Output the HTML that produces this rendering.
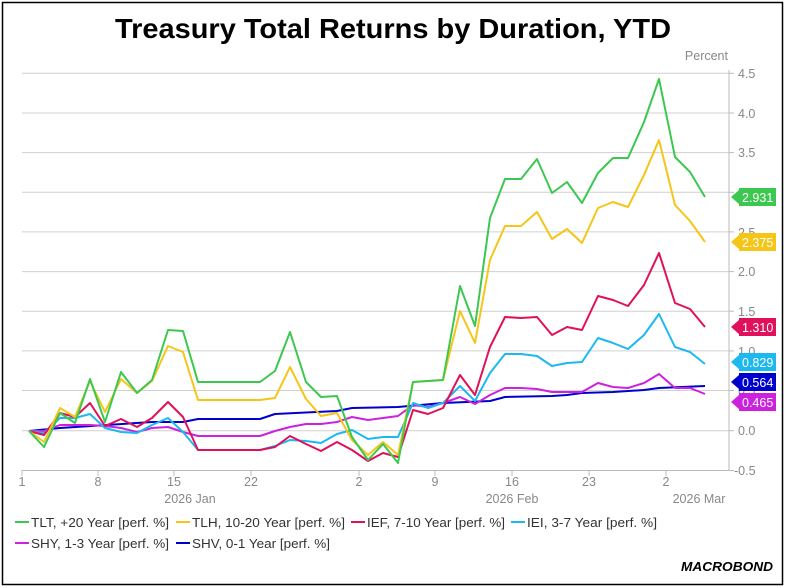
<!DOCTYPE html>
<html><head><meta charset="utf-8"><style>
html,body{margin:0;padding:0;background:#fff}
svg{display:block}
text{font-family:"Liberation Sans",Arial,sans-serif}
</style></head><body>
<svg width="786" height="588" viewBox="0 0 786 588" xmlns="http://www.w3.org/2000/svg">
<rect x="2.5" y="2.5" width="780" height="582" fill="#fff" stroke="#000" stroke-width="1.5"/>
<text x="393" y="38" text-anchor="middle" font-size="28" font-weight="bold" fill="#000" textLength="556" lengthAdjust="spacingAndGlyphs">Treasury Total Returns by Duration, YTD</text>
<text x="728" y="60" text-anchor="end" font-size="12.5" fill="#888">Percent</text>
<g stroke="#d0d0d0" stroke-width="1">
<line x1="22" x2="729" y1="73.3" y2="73.3"/><line x1="22" x2="729" y1="113" y2="113"/>
<line x1="22" x2="729" y1="152.6" y2="152.6"/><line x1="22" x2="729" y1="192.3" y2="192.3"/>
<line x1="22" x2="729" y1="231.9" y2="231.9"/><line x1="22" x2="729" y1="271.6" y2="271.6"/>
<line x1="22" x2="729" y1="311.2" y2="311.2"/><line x1="22" x2="729" y1="350.9" y2="350.9"/>
<line x1="22" x2="729" y1="390.5" y2="390.5"/><line x1="22" x2="729" y1="430.7" y2="430.7"/>
</g>
<g stroke="#bbb" stroke-width="1">
<line x1="729" x2="729" y1="70" y2="471"/>
<line x1="22" x2="729" y1="470.5" y2="470.5"/>
<line x1="22" x2="22" y1="470" y2="476"/><line x1="98" x2="98" y1="470" y2="476"/>
<line x1="174" x2="174" y1="470" y2="476"/><line x1="251" x2="251" y1="470" y2="476"/>
<line x1="359" x2="359" y1="470" y2="476"/><line x1="435" x2="435" y1="470" y2="476"/>
<line x1="512" x2="512" y1="470" y2="476"/><line x1="589" x2="589" y1="470" y2="476"/>
<line x1="666" x2="666" y1="470" y2="476"/>
<line x1="729" x2="734" y1="73.3" y2="73.3"/><line x1="729" x2="734" y1="113" y2="113"/><line x1="729" x2="734" y1="152.6" y2="152.6"/><line x1="729" x2="734" y1="192.3" y2="192.3"/><line x1="729" x2="734" y1="231.9" y2="231.9"/><line x1="729" x2="734" y1="271.6" y2="271.6"/><line x1="729" x2="734" y1="311.2" y2="311.2"/><line x1="729" x2="734" y1="350.9" y2="350.9"/><line x1="729" x2="734" y1="390.5" y2="390.5"/><line x1="729" x2="734" y1="430.7" y2="430.7"/><line x1="729" x2="734" y1="470.5" y2="470.5"/>
</g>
<g font-size="12.5" fill="#888">
<text x="738" y="78">4.5</text><text x="738" y="118">4.0</text><text x="738" y="157">3.5</text>
<text x="738" y="197">3.0</text><text x="738" y="237">2.5</text><text x="738" y="276">2.0</text>
<text x="738" y="316">1.5</text><text x="738" y="356">1.0</text><text x="738" y="395">0.5</text>
<text x="738" y="435">0.0</text><text x="734" y="475">-0.5</text>
</g>
<g font-size="12.5" fill="#888" text-anchor="middle">
<text x="22" y="486">1</text><text x="98" y="486">8</text><text x="174" y="486">15</text><text x="251" y="486">22</text>
<text x="359" y="486">2</text><text x="435" y="486">9</text><text x="512" y="486">16</text><text x="589" y="486">23</text><text x="666" y="486">2</text>
<text x="190" y="503">2026 Jan</text><text x="512" y="503">2026 Feb</text><text x="699" y="503">2026 Mar</text>
</g>
<g fill="none" stroke-width="2" stroke-linejoin="round">
<polyline stroke="#0000cc" points="29,431 60,428 152,422 183,422 198,419 260,419 275,414 337,411 352,408 398,407 443,403 490,401 505,397 552,396 567,395 582,393 613,392 644,390 659,388 705,386"/>
<polyline stroke="#cc22dd" points="29,431 44,431 60,425 90,425 105,426 121,428 137,432 152,428 168,427 183,432 198,436 260,436 275,431 290,427 306,424 321,424 337,422 352,417 368,420 383,418 398,416 413,405 428,407 443,403 460,397 475,404 490,395 505,388 521,388 537,389 552,392 567,392 582,392 598,383 613,387 628,388 644,383 659,374 675,388 690,388 705,394"/>
<polyline stroke="#1eb8f0" points="29,431 44,433 60,418 75,418 90,414 105,428 121,432 137,433 152,425 168,418 183,432 198,450 260,450 275,446 290,440 306,441 321,443 337,434 352,430 368,439 383,437 398,437 413,403 428,408 443,403 460,386 475,401 490,373 505,354 521,354 537,356 552,366 567,363 582,362 598,338 613,343 628,349 644,335 659,314 675,347 690,352 705,364"/>
<polyline stroke="#e0105a" points="29,431 44,435 60,413 75,417 90,403 105,426 121,419 137,427 152,418 168,402 183,417 198,450 260,450 275,447 290,436 306,444 321,451 337,442 352,450 368,461 383,453 398,457 413,410 428,414 443,408 460,375 475,395 490,347 505,317 521,318 537,317 552,335 567,327 582,330 598,296 613,300 628,306 644,285 659,253 675,303 690,309 705,327"/>
<polyline stroke="#f5c518" points="29,431 44,442 60,408 75,417 90,381 105,412 121,379 137,393 152,381 168,346 183,352 198,400 260,400 275,398 290,367 306,399 321,416 337,413 352,440 368,455 383,442 398,455 413,382 443,380 460,311 475,343 490,260 505,226 521,226 537,212 552,239 567,229 582,243 598,208 613,202 628,207 644,175 659,140 675,205 690,221 705,242"/>
<polyline stroke="#3cc850" points="29,431 44,447 60,413 75,423 90,379 105,422 121,372 137,393 152,380 168,330 183,331 198,382 260,382 275,371 290,332 306,382 321,397 337,396 352,437 368,460 383,444 398,463 413,382 443,380 460,286 475,326 490,218 505,179 521,179 537,159 552,193 567,182 582,203 598,173 613,158 628,158 644,122 659,79 675,157 690,172 705,197"/>
</g>
<g font-size="12.5" fill="#fff">
<path d="M731,197 L739,190 L739,188 L776,188 L776,206 L739,206 L739,204 Z" fill="#3cc850"/><text x="742" y="202">2.931</text>
<path d="M731,242 L739,235 L739,233 L776,233 L776,251 L739,251 L739,249 Z" fill="#f5c518"/><text x="742" y="247">2.375</text>
<path d="M731,327 L739,320 L739,318 L776,318 L776,336 L739,336 L739,334 Z" fill="#e0105a"/><text x="742" y="332">1.310</text>
<path d="M731,362 L739,355 L739,353 L776,353 L776,371 L739,371 L739,369 Z" fill="#1eb8f0"/><text x="742" y="367">0.829</text>
<path d="M731,382 L739,375 L739,373 L776,373 L776,391 L739,391 L739,389 Z" fill="#0000cc"/><text x="742" y="387">0.564</text>
<path d="M731,402 L739,395 L739,393 L776,393 L776,411 L739,411 L739,409 Z" fill="#cc22dd"/><text x="742" y="407">0.465</text>
</g>
<g font-size="13" fill="#333">
<rect x="15" y="521" width="14" height="2" fill="#3cc850"/><text x="31" y="527" textLength="138" lengthAdjust="spacingAndGlyphs">TLT, +20 Year [perf. %]</text>
<rect x="176" y="521" width="14" height="2" fill="#f5c518"/><text x="192" y="527" textLength="153" lengthAdjust="spacingAndGlyphs">TLH, 10-20 Year [perf. %]</text>
<rect x="351" y="521" width="14" height="2" fill="#e0105a"/><text x="367" y="527" textLength="138" lengthAdjust="spacingAndGlyphs">IEF, 7-10 Year [perf. %]</text>
<rect x="511" y="521" width="14" height="2" fill="#1eb8f0"/><text x="527" y="527" textLength="130" lengthAdjust="spacingAndGlyphs">IEI, 3-7 Year [perf. %]</text>
<rect x="15" y="542" width="14" height="2" fill="#cc22dd"/><text x="31" y="548" textLength="138" lengthAdjust="spacingAndGlyphs">SHY, 1-3 Year [perf. %]</text>
<rect x="176" y="542" width="14" height="2" fill="#0000cc"/><text x="192" y="548" textLength="138" lengthAdjust="spacingAndGlyphs">SHV, 0-1 Year [perf. %]</text>
</g>
<text x="773" y="571" text-anchor="end" font-size="13" font-weight="bold" font-style="italic" fill="#000" textLength="92" lengthAdjust="spacingAndGlyphs">MACROBOND</text>
</svg>
</body></html>
